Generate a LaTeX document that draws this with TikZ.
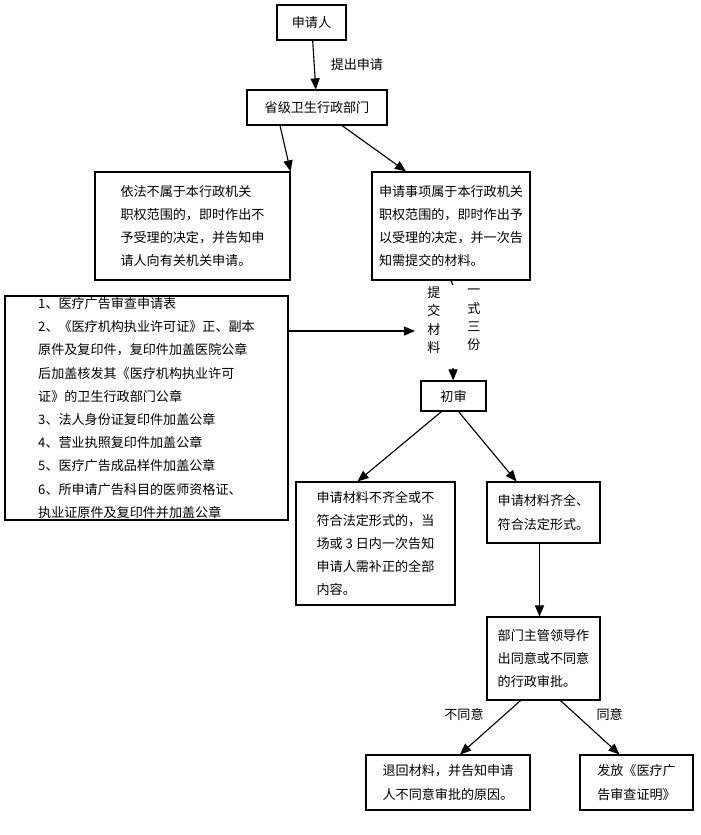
\documentclass[tikz,border=0pt]{standalone}
\usepackage{fontspec}
\setmainfont{Noto Sans CJK SC}
\usetikzlibrary{arrows}
\tikzstyle{box} = [rectangle, draw=black, thick, inner sep=0pt, align=left,
font=\fontsize{9.3}{16.5}\selectfont]
\tikzstyle{lbl} = [font=\fontsize{9.3}{12}\selectfont]
\tikzstyle{arrow} = [thick,->,>=triangle 45]
\begin{document}
\begin{tikzpicture}[x=0.025cm,y=-0.025cm]
        \useasboundingbox (0,0) rectangle (700,835);
        \node (app) [box, minimum width=69*0.025cm, minimum height=35*0.025cm] at (311.5,22.5) {申请人};
        \node (dept) [box, minimum width=140*0.025cm, minimum height=35*0.025cm] at (317,107.5) {省级卫生行政部门};
        \node (rej) [box, minimum width=195*0.025cm, minimum height=108*0.025cm] at (192.5,226) {依法不属于本行政机关\\职权范围的，即时作出不\\予受理的决定，并告知申\\请人向有关机关申请。};
        \node (acc) [box, minimum width=158*0.025cm, minimum height=108*0.025cm] at (451,226) {申请事项属于本行政机关\\职权范围的，即时作出予\\以受理的决定，并一次告\\知需提交的材料。};
        \node (mat) [box, minimum width=283*0.025cm, minimum height=224*0.025cm] at (146.5,408) {1、医疗广告审查申请表\\2、《医疗机构执业许可证》正、副本\\原件及复印件，复印件加盖医院公章\\后加盖核发其《医疗机构执业许可\\证》的卫生行政部门公章\\3、法人身份证复印件加盖公章\\4、营业执照复印件加盖公章\\5、医疗广告成品样件加盖公章\\6、所申请广告科目的医师资格证、\\执业证原件及复印件并加盖公章};
        \node (sub1) [lbl, align=center, font=\fontsize{9.3}{13}\selectfont] at (434,320) {提\\交\\材\\料};
        \node (sub2) [lbl, align=center, font=\fontsize{9.3}{13}\selectfont] at (474,320) {一\\式\\三\\份};
        \coordinate (top) at (453,285);
        \coordinate (mid) at (453,368);
        \coordinate (in) at (415,331);
        \node (first) [box, minimum width=65*0.025cm, minimum height=30*0.025cm] at (453.5,396) {初审};
        \node (lack) [box, minimum width=159*0.025cm, minimum height=123*0.025cm] at (375.5,543.5) {申请材料不齐全或不\\符合法定形式的，当\\场或 3 日内一次告知\\申请人需补正的全部\\内容。};
        \node (full) [box, minimum width=113*0.025cm, minimum height=61*0.025cm] at (543.5,512.5) {申请材料齐全、\\符合法定形式。};
        \node (lead) [box, minimum width=113*0.025cm, minimum height=83*0.025cm] at (543.5,658.5) {部门主管领导作\\出同意或不同意\\的行政审批。};
        \node (back) [box, minimum width=164*0.025cm, minimum height=55*0.025cm] at (448,782.5) {退回材料，并告知申请\\人不同意审批的原因。};
        \node (cert) [box, minimum width=113*0.025cm, minimum height=55*0.025cm] at (636.5,782.5) {发放《医疗广\\告审查证明》};
        \draw [arrow] (app) -- node[lbl, right=8pt] {提出申请} (dept);
        \draw [arrow] ([xshift=-37*0.025cm]dept.south) -- (rej.north east);
        \draw [arrow] ([xshift=25*0.025cm]dept.south) -- ([xshift=-45*0.025cm]acc.north);
        \draw [thick] (acc.south) -- (top);
        \draw [arrow] (mat.east |- in) -- (in);
        \draw [arrow] (mid) -- (first);
        \draw [arrow] ([xshift=-12*0.025cm]first.south) -- ([xshift=-18*0.025cm]lack.north);
        \draw [arrow] ([xshift=5*0.025cm]first.south) -- ([xshift=-27*0.025cm]full.north);
        \draw [arrow] ([xshift=-4*0.025cm]full.south) -- ([xshift=-4*0.025cm]lead.north);
        \draw [arrow] ([xshift=-23*0.025cm]lead.south) -- node[lbl, above left=1pt] {不同意} ([xshift=12*0.025cm]back.north);
        \draw [arrow] ([xshift=17*0.025cm]lead.south) -- node[lbl, above right=1pt] {同意} ([xshift=-17*0.025cm]cert.north);
    \end{tikzpicture}
\end{document}
